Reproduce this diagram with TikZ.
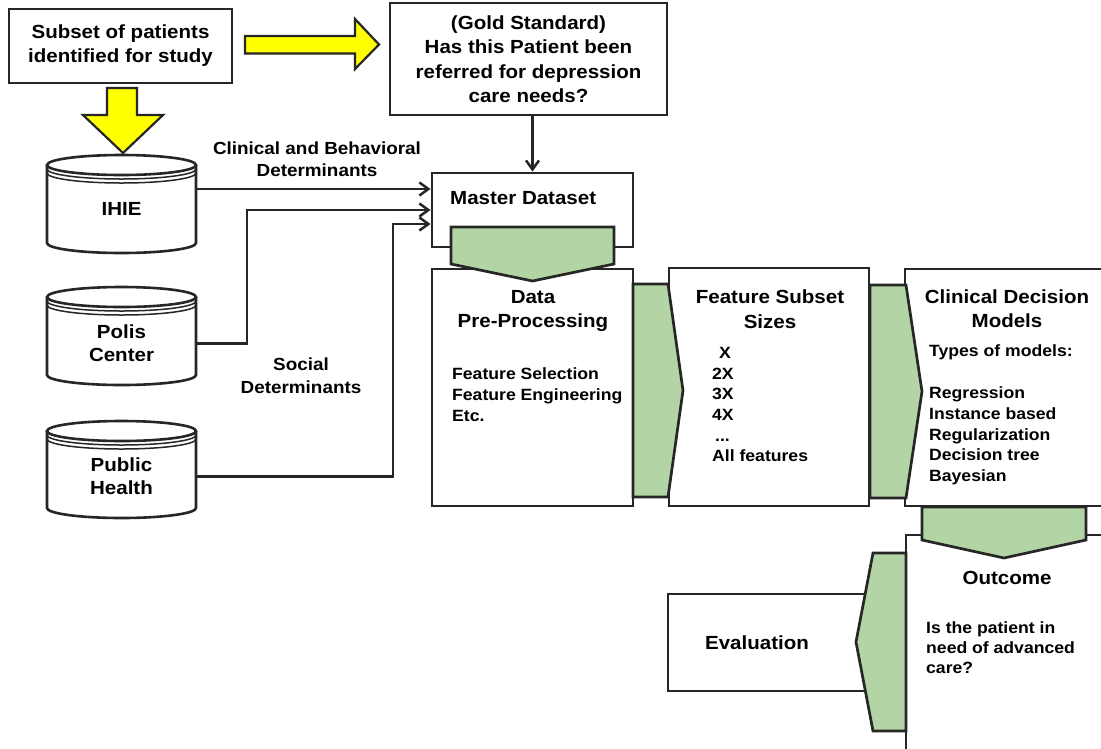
\documentclass[tikz,border=0pt]{standalone}
\usepackage{fontspec}
\setmainfont{Liberation Sans}[FakeStretch=1.08]
\usetikzlibrary{arrows.meta}
\definecolor{ink}{HTML}{262626}
\definecolor{stagegreen}{HTML}{B3D5A5}
\definecolor{pointer}{HTML}{FFFF00}
\newcommand\headfont{\fontsize{19}{24.5}\selectfont\bfseries}
\newcommand\bodyfont{\fontsize{16.3}{20.7}\selectfont\bfseries}
\newcommand\labelfont{\fontsize{17.5}{22.5}\selectfont\bfseries}
% database drum: left, top, right, bottom
\newcommand\drum[4]{%
  \pgfmathsetmacro\drumrx{(#3-#1)/2}%
  \pgfmathsetmacro\drumcx{(#1+#3)/2}%
  \filldraw[drumline] (#1,#2+10) -- (#1,#4-10)
    arc[start angle=180,end angle=0,x radius=\drumrx,y radius=10] -- (#3,#2+10);
  \filldraw[drumline] (\drumcx,#2+10) ellipse[x radius=\drumrx,y radius=10];
  \draw[drumline,fill=none,line width=1.5pt] (#1,#2+14)
    arc[start angle=180,end angle=0,x radius=\drumrx,y radius=10];
  \draw[drumline,fill=none,line width=1.5pt] (#1,#2+18)
    arc[start angle=180,end angle=0,x radius=\drumrx,y radius=10];
}
\begin{document}
\begin{tikzpicture}[x=1pt,y=-1pt,line join=miter,
  box/.style={draw=ink,line width=2.9pt,fill=white,inner sep=0pt},
  stage/.style={draw=ink,line width=2.7pt,fill=stagegreen},
  pointerarrow/.style={draw=ink,line width=2.2pt,fill=pointer},
  link/.style={draw=ink,line width=2.5pt,-{Straight Barb[length=9pt,width=13pt]}},
  drumline/.style={draw=ink,line width=2.6pt,fill=white},
  head/.style={font=\headfont,align=center,inner sep=0pt},
  body/.style={font=\bodyfont,align=left,inner sep=0pt},
  tag/.style={font=\labelfont,align=center,inner sep=0pt},
  dbnode/.style={font=\headfont,align=center,inner sep=0pt,minimum width=149,minimum height=80},
]
\useasboundingbox (0,0) rectangle (1101,748);
\clip (0,0) rectangle (1101,748);
\fill[white] (0,0) rectangle (1101,748);

% databases
\drum{47}{155}{196}{253}
\drum{47}{287}{196}{385}
\drum{47}{421}{196}{518}
\node[dbnode] (ihie) at (121.5,209) {IHIE};
\node[dbnode] (polis) at (121.5,343.5) {Polis\\[-1.5pt]Center};
\node[dbnode] (public) at (121.5,476.5) {Public\\[-1.5pt]Health};

% boxes
\node[box,head,minimum width=223,minimum height=74] (subset) at (120.5,46)
  {Subset of patients\\[-0.5pt]identified for study};
\node[box,head,minimum width=277,minimum height=112] (gold) at (528.5,59)
  {(Gold Standard)\\Has this Patient been\\referred for depression\\care needs?};
\node[box,minimum width=201,minimum height=74] (master) at (532.5,210) {};
\node[box,minimum width=201,minimum height=237] (prep) at (532.5,387.5) {};
\node[box,minimum width=200,minimum height=238] (sizes) at (769,387) {};
\node[box,minimum width=215,minimum height=237] (models) at (1012.5,387.5) {};
\node[box,minimum width=214,minimum height=235] (outcome) at (1013,652.5) {};
\node[box,minimum width=212,minimum height=97] (eval) at (774,642.5) {};

% yellow block arrows
\draw[pointerarrow] (245,36) -- (355,36) -- (355,19) -- (379,44.5) -- (355,69) -- (355,53.5) -- (245,53.5) -- cycle;
\draw[pointerarrow] (107,88) -- (137,88) -- (137,115) -- (163,115) -- (123,153) -- (83,115) -- (107,115) -- cycle;

% green stage chevrons
\draw[stage] (451,227) -- (614,227) -- (614,264) -- (532.5,281) -- (451,264) -- cycle;
\draw[stage] (633,284) -- (668,284) -- (683,390.5) -- (668,497) -- (633,497) -- cycle;
\draw[stage] (870,285) -- (906,285) -- (922,391.5) -- (906,498) -- (870,498) -- cycle;
\draw[stage] (922,507) -- (1086,507) -- (1086,540) -- (1004,558) -- (922,540) -- cycle;
\draw[stage] (906,553) -- (873,553) -- (856,642) -- (873,731) -- (906,731) -- cycle;

% texts inside boxes
\node[head,anchor=west] (mastertitle) at (450,198) {Master Dataset};
\node[head] (preptitle) at (533,311) {Data\\Pre-Processing};
\node[body,anchor=west] (preplist) at (452,394.5)
  {Feature Selection\\Feature Engineering\\Etc.};
\node[head] (sizestitle) at (770,309) {Feature Subset\\Sizes};
\node[body,anchor=north west] (sizeslist) at (712,347)
  {\hspace*{7pt}X\\2X\\3X\\4X\\\hspace*{3pt}...\\All features};
\node[head] (modelstitle) at (1007,308.5) {Clinical Decision\\[-1pt]Models};
\node[body,anchor=north west] (modelslist) at (929,344)
  {Types of models:\\[22pt]Regression\\Instance based\\Regularization\\Decision tree\\Bayesian};
\node[head] (outcometitle) at (1007,578) {Outcome};
\node[body,anchor=north west] (outcomebody) at (926,621)
  {Is the patient in\\[-0.5pt]need of advanced\\[-0.5pt]care?};
\node[head] (evaltitle) at (757,643) {Evaluation};

% connector labels
\node[tag] (clinlabel) at (317,159) {Clinical and Behavioral\\Determinants};
\node[tag] (sociallabel) at (301,375.5) {Social\\Determinants};

% connectors into the master dataset
\coordinate (inA) at ([yshift=21pt]master.west);
\coordinate (inB) at (master.west);
\coordinate (inC) at ([yshift=-14pt]master.west);
\draw[link] (ihie.east |- inA) -- (inA);
\draw[link] (polis.east) -- ++(51,0) |- (inB);
\draw[link] (public.east) -- ++(197,0) |- (inC);
\draw[link] (master.north |- gold.south) -- (master.north);
\end{tikzpicture}
\end{document}
